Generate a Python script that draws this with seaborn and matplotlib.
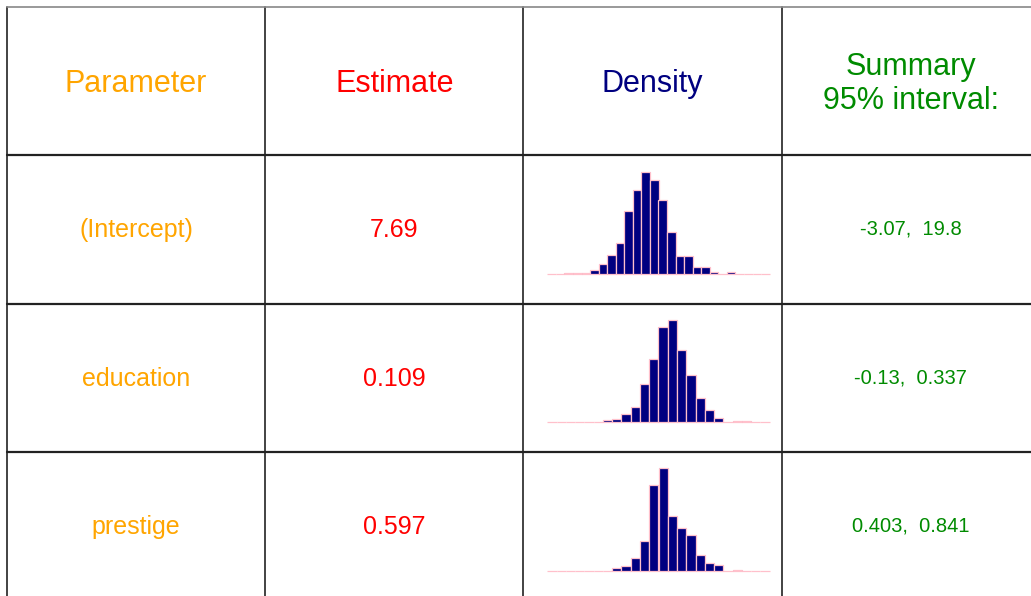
import numpy as np
import matplotlib
matplotlib.use("Agg")
import matplotlib.pyplot as plt
import seaborn as sns

# table content
param_names = ["(Intercept)", "education", "prestige"]
estimates = ["7.69", "0.109", "0.597"]
intervals = ["-3.07,  19.8", "-0.13,  0.337", "0.403,  0.841"]
headers = ["Parameter", "Estimate", "Density", "Summary\n95% interval:"]

# posterior histograms (bin counts, bin ranges)
intercept_counts = [1, 1, 2, 2, 4, 13, 31, 59, 96, 192, 255, 311, 285,
                    224, 129, 56, 56, 23, 23, 5, 0, 5, 0, 1, 0, 1]
intercept_range = (-16, 36)
education_counts = [0, 0, 0, 0, 0, 2, 6, 9, 24, 48, 116, 191, 290, 310,
                    220, 143, 73, 38, 13, 0, 3, 3, 0, 0]
education_range = (-0.55, 0.65)
prestige_counts = [0, 0, 0, 0, 0, 0, 0, 7, 13, 39, 91, 259, 310, 166,
                   128, 108, 48, 24, 18, 0, 2, 0, 0, 0]
prestige_range = (-0.05, 1.15)

hists = [(intercept_counts, intercept_range),
         (education_counts, education_range),
         (prestige_counts, prestige_range)]

col_colors = ["#FFA500", "#FF0000", "#000080", "#008B00"]

W, H = 1031, 596
sns.set_style("white")
plt.rcParams["font.family"] = ["Liberation Sans", "DejaVu Sans"]

fig = plt.figure(figsize=(W / 100, H / 100), dpi=100)
bg = fig.add_axes([0, 0, 1, 1])
bg.set_xlim(0, W)
bg.set_ylim(H, 0)
bg.axis("off")

# cell grid
x0, y0 = 7, 7
cw, rh = 258.2, 148.3
n_cols, n_rows = 4, 4
for i in range(n_cols + 1):
    bg.plot([x0 + i * cw] * 2, [y0, H + 10], color="#222222", lw=1.2)
for j in range(n_rows + 1):
    bg.plot([x0, W + 10], [y0 + j * rh] * 2,
            color="#888888" if j == 0 else "#222222", lw=1.2 if j == 0 else 1.6)

def cx(i):
    return x0 + (i + 0.5) * cw

def cy(j):
    return y0 + (j + 0.5) * rh

# header row
for i, h in enumerate(headers):
    bg.text(cx(i), cy(0) + 3, h, color=col_colors[i], fontsize=22,
            ha="center", va="center", linespacing=1.2)

# body rows
for r in range(3):
    j = r + 1
    bg.text(cx(0), cy(j) + 1, param_names[r], color=col_colors[0], fontsize=18,
            ha="center", va="center")
    bg.text(cx(1), cy(j) + 1, estimates[r], color=col_colors[1], fontsize=18,
            ha="center", va="center")
    bg.text(cx(3), cy(j), intervals[r], color=col_colors[3], fontsize=14.5,
            ha="center", va="center")

    counts, (lo, hi) = hists[r]
    n = len(counts)
    w = (hi - lo) / n
    centers = lo + w * (np.arange(n) + 0.5)
    left = x0 + 2 * cw + 24
    right = x0 + 3 * cw - 12
    top = y0 + j * rh + 16.5
    bottom = y0 + (j + 1) * rh - 29.5
    ax = fig.add_axes([left / W, 1 - bottom / H, (right - left) / W, (bottom - top) / H])
    sns.histplot(x=centers, weights=counts, bins=n, binrange=(lo, hi), ax=ax,
                 color="#000080", alpha=1, edgecolor="pink", linewidth=0.9)
    ax.set_xlim(lo, hi)
    ax.set_ylim(0, max(counts))
    for p in ax.patches:
        p.set_clip_on(False)
    ax.axis("off")

fig.savefig("out.png", dpi=100)
